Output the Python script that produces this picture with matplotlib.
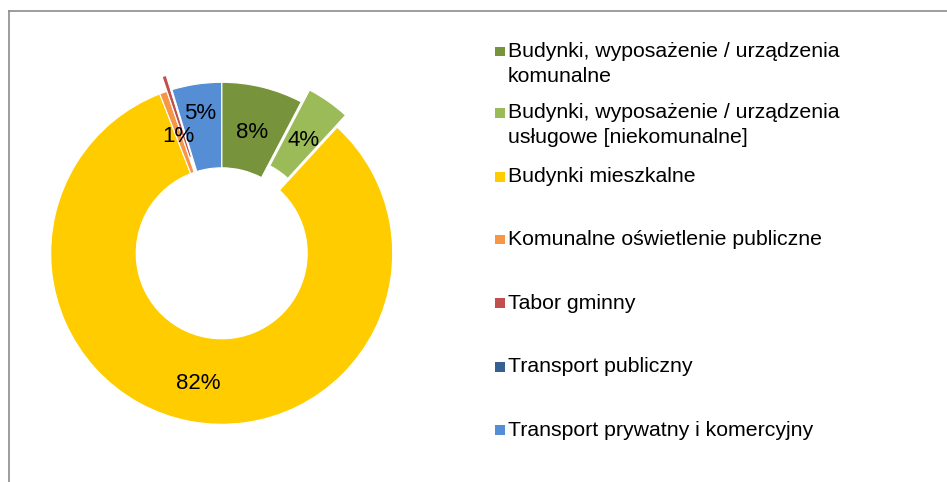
import matplotlib
matplotlib.use("Agg")
import matplotlib.pyplot as plt
from matplotlib.patches import Rectangle
from matplotlib.lines import Line2D

plt.rcParams['font.family'] = ['Liberation Sans', 'DejaVu Sans']

# data (share of total, %)
categories = [
    "Budynki, wyposażenie / urządzenia\nkomunalne",
    "Budynki, wyposażenie / urządzenia\nusługowe [niekomunalne]",
    "Budynki mieszkalne",
    "Komunalne oświetlenie publiczne",
    "Tabor gminny",
    "Transport publiczny",
    "Transport prywatny i komercyjny",
]
shares = [7.7, 4.1, 82.3, 0.7, 0.4, 0.1, 4.7]
colors = ["#77933C", "#9BBB59", "#FFCC00", "#F79646", "#C0504D", "#376092", "#558ED5"]
explode = [0, 0.085, 0, 0, 0.09, 0, 0]

W, H = 947, 482
fig = plt.figure(figsize=(W / 100, H / 100), dpi=100)

# donut: centre (221.7, 253.3) px, outer radius 171 px
R = 171
cx, cy = 221.7, 253.3
half = 1.2 * R
ax = fig.add_axes([(cx - half) / W, (H - cy - half) / H, 2 * half / W, 2 * half / H])


def fmt(p):
    return f"{p:.0f}%" if p >= 0.5 else ""


wedges, texts, autotexts = ax.pie(
    shares, colors=colors, explode=explode, startangle=90, counterclock=False,
    radius=1, autopct=fmt, pctdistance=0.75,
    wedgeprops=dict(width=0.5, edgecolor="white", linewidth=0.8),
    textprops=dict(fontsize=16, color="black"))

# Excel nudges the small blue label outwards
x, y = autotexts[6].get_position()
autotexts[6].set_position((x * 0.85 / 0.75, y * 0.85 / 0.75))
# visual centring (matplotlib centres on the box incl. descent)
for t in autotexts:
    x, y = t.get_position()
    t.set_position((x, y - 0.022))

ax.set_xlim(-1.2, 1.2)
ax.set_ylim(-1.2, 1.2)
ax.axis("off")

# legend drawn by hand, marker centres in px from top
leg_y = [51.3, 112.7, 176.7, 239.5, 303, 366.7, 430]
for lab, col, yy in zip(categories, colors, leg_y):
    fig.add_artist(Rectangle((495 / W, (H - yy - 4.8) / H), 9.5 / W, 9.5 / H,
                             transform=fig.transFigure, facecolor=col, edgecolor="none"))
    for k, line in enumerate(lab.split("\n")):
        base = yy + 5.6 + 25 * k
        fig.text(508 / W, (H - base) / H, line, fontsize=15.3, va="baseline",
                 ha="left", color="#000000")

# chart area border (only left and top visible)
fig.add_artist(Line2D([8.5 / W, 8.5 / W], [0, (H - 11) / H], transform=fig.transFigure,
                      color="#8c8c8c", lw=1.2))
fig.add_artist(Line2D([8.5 / W, 1], [(H - 11) / H, (H - 11) / H], transform=fig.transFigure,
                      color="#8c8c8c", lw=1.2))

fig.savefig("out.png", dpi=100)
